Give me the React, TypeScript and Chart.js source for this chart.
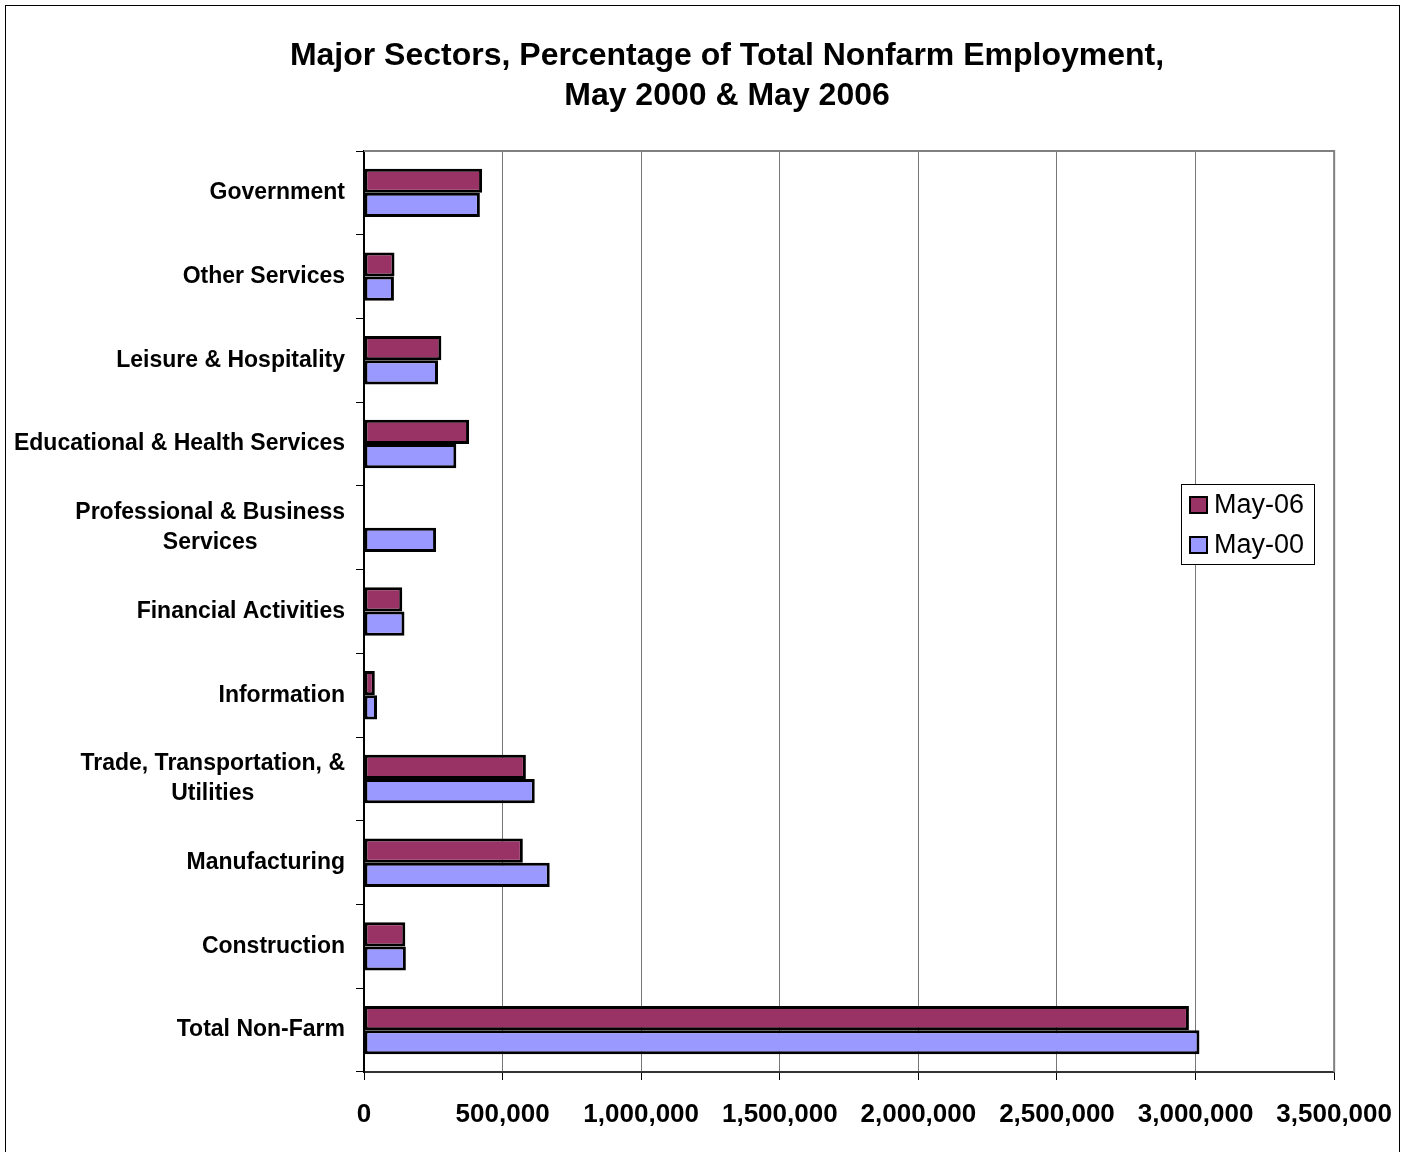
import React, { useEffect, useRef } from 'react';
import { Chart, registerables } from 'chart.js';

Chart.register(...registerables);

const titleLines = [
  'Major Sectors, Percentage of Total Nonfarm Employment,',
  'May 2000 & May 2006',
];

const categories: string[][] = [
  ['Government'],
  ['Other Services'],
  ['Leisure & Hospitality'],
  ['Educational & Health Services'],
  ['Professional & Business', 'Services'],
  ['Financial Activities'],
  ['Information'],
  ['Trade, Transportation, &', 'Utilities'],
  ['Manufacturing'],
  ['Construction'],
  ['Total Non-Farm'],
];

const seriesNames = ['May-06', 'May-00'];
const seriesColors = ['#993366', '#9999FF'];

const may06: (number | null)[] = [426000, 110000, 279000, 379000, null, 138000, 39000, 584000, 573000, 149000, 2976000];
const may00: (number | null)[] = [418000, 108000, 267000, 333000, 260000, 146000, 47000, 616000, 670000, 151000, 3014000];

const xMin = 0;
const xMax = 3500000;
const xStep = 500000;

const FONT = '"Liberation Sans", Arial, Helvetica, sans-serif';
const W = 1411;
const H = 1152;

export default function App() {
  const ref = useRef<HTMLCanvasElement | null>(null);

  useEffect(() => {
    if (!ref.current) return;

    const framePlugin = {
      id: 'frame',
      beforeDraw(chart: any) {
        const ctx = chart.ctx;
        ctx.save();
        ctx.fillStyle = '#fff';
        ctx.fillRect(0, 0, chart.width, chart.height);
        ctx.strokeStyle = '#000';
        ctx.lineWidth = 1;
        ctx.strokeRect(5.5, 5.5, 1394, 1160);
        ctx.restore();
      },
      beforeDatasetsDraw(chart: any) {
        const { ctx, chartArea } = chart;
        ctx.save();
        ctx.strokeStyle = '#808080';
        ctx.lineWidth = 2;
        ctx.beginPath();
        ctx.moveTo(chartArea.left, chartArea.top);
        ctx.lineTo(chartArea.right, chartArea.top);
        ctx.lineTo(chartArea.right, chartArea.bottom);
        ctx.stroke();
        ctx.restore();
      },
      afterDraw(chart: any) {
        const { ctx, chartArea } = chart;
        const yScale = chart.scales.y;
        ctx.save();
        // Title
        ctx.fillStyle = '#000';
        ctx.font = `bold 32px ${FONT}`;
        ctx.textAlign = 'center';
        ctx.textBaseline = 'middle';
        titleLines.forEach((t, i) => ctx.fillText(t, 727, 56 + i * 40));

        // Category labels (right-aligned blocks, lines centered within block)
        ctx.font = `bold 23px ${FONT}`;
        const rightEdge = chartArea.left - 19;
        categories.forEach((lines, i) => {
          const y = yScale.getPixelForValue(i);
          const maxW = Math.max(...lines.map((l) => ctx.measureText(l).width));
          const cx = rightEdge - maxW / 2;
          const lh = 30;
          const y0 = y - ((lines.length - 1) * lh) / 2;
          lines.forEach((l, j) => ctx.fillText(l, cx, y0 + j * lh));
        });

        // Legend
        const lx = 1181.5, ly = 484.5, lw = 133, lh2 = 80;
        ctx.fillStyle = '#fff';
        ctx.fillRect(lx, ly, lw, lh2);
        ctx.strokeStyle = '#000';
        ctx.lineWidth = 1;
        ctx.strokeRect(lx, ly, lw, lh2);
        ctx.font = `27px ${FONT}`;
        ctx.textAlign = 'left';
        seriesNames.forEach((name, i) => {
          const cy = 505 + i * 40;
          ctx.fillStyle = seriesColors[i];
          ctx.fillRect(1190, cy - 8, 17, 16);
          ctx.strokeStyle = '#000';
          ctx.lineWidth = 2;
          ctx.strokeRect(1190, cy - 8, 17, 16);
          ctx.fillStyle = '#000';
          ctx.fillText(name, 1214, cy + 1);
        });
        ctx.restore();
      },
    };

    const chart = new Chart(ref.current, {
      type: 'bar',
      data: {
        labels: categories.map((c) => c.join(' ')),
        datasets: [
          {
            label: seriesNames[0],
            data: may06,
            backgroundColor: seriesColors[0],
            borderColor: '#000',
            borderWidth: 3,
            borderSkipped: false,
            categoryPercentage: 0.578,
            barPercentage: 1.0,
          },
          {
            label: seriesNames[1],
            data: may00,
            backgroundColor: seriesColors[1],
            borderColor: '#000',
            borderWidth: 3,
            borderSkipped: false,
            categoryPercentage: 0.578,
            barPercentage: 1.0,
          },
        ],
      },
      options: {
        indexAxis: 'y',
        responsive: false,
        animation: false,
        layout: { padding: { top: 151, right: 76, left: 0, bottom: 0 } },
        plugins: {
          legend: { display: false },
          title: { display: false },
          tooltip: { enabled: false },
        },
        scales: {
          x: {
            type: 'linear',
            position: 'bottom',
            min: xMin,
            max: xMax,
            afterFit: (s: any) => {
              s.height = 80;
            },
            ticks: {
              stepSize: xStep,
              autoSkip: false,
              maxRotation: 0,
              minRotation: 0,
              padding: 19,
              color: '#000',
              font: { family: FONT, size: 26, weight: 'bold' },
              callback: (v: any) => Number(v).toLocaleString('en-US'),
            },
            grid: {
              color: '#777',
              lineWidth: 1,
              drawTicks: true,
              tickLength: 8,
              tickColor: '#000',
            },
            border: { display: true, color: '#333', width: 2 },
          },
          y: {
            type: 'category',
            position: 'left',
            afterFit: (s: any) => {
              s.width = 364;
            },
            ticks: { display: false },
            grid: {
              offset: true,
              drawOnChartArea: false,
              drawTicks: true,
              tickLength: 8,
              color: '#000',
              lineWidth: 1,
            },
            border: { display: true, color: '#000', width: 2 },
          },
        },
      },
      plugins: [framePlugin],
    } as any);

    return () => chart.destroy();
  }, []);

  return (
    <div style={{ position: 'absolute', left: 0, top: 0, width: W, height: H, background: '#fff' }}>
      <canvas ref={ref} width={W} height={H} style={{ width: W, height: H, display: 'block' }} />
    </div>
  );
}
